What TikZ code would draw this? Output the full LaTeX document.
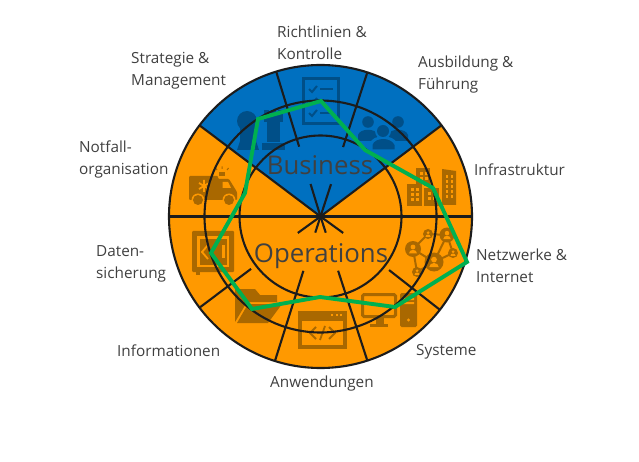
\documentclass[tikz,border=0pt]{standalone}
\usepackage{fontspec}
\setmainfont{Open Sans}
\definecolor{secblue}{HTML}{0070C0}
\definecolor{secorange}{HTML}{FF9900}
\definecolor{iconblue}{HTML}{004F88}
\definecolor{iconorange}{HTML}{A96800}
\definecolor{radar}{HTML}{00B050}
\definecolor{ink}{HTML}{404040}
\definecolor{rim}{HTML}{1C1C1C}
\tikzset{
    lbl/.style={anchor=west, align=left, text=ink, inner sep=0pt, font=\fontsize{15.3}{22}\selectfont},
    title/.style={text=ink, inner sep=0pt, font=\fontsize{25.8}{28}\selectfont},
    ringline/.style={draw=rim, line width=2.1pt},
    spoke/.style={draw=rim, line width=2.1pt},
    radarline/.style={draw=radar, line width=3.9pt, line join=miter}
}
\begin{document}
\begin{tikzpicture}[x=1pt, y=-1pt]
    \useasboundingbox (0,0) rectangle (639,462);
    \fill[white] (0,0) rectangle (639,462);
    \coordinate (centre) at (320.5,216.5);
    % Draw the two sectors of the wheel.
    \fill[secorange] (centre) circle[radius=151.5pt];
    \fill[secblue] (centre) -- ++(143:151.5pt) arc[start angle=143, end angle=37, radius=151.5pt] -- cycle;
    % Draw the pawn and the rook.
    \fill[iconblue] (247,121) circle[radius=10pt];
    \fill[iconblue] (240,127) -- (256,118) -- (256,141) -- (259,150) -- (237,150) -- (240,141) -- cycle;
    \fill[iconblue] (264,110) rectangle (283,122);
    \fill[iconblue] (267,122) rectangle (280,142);
    \fill[iconblue] (262,143) rectangle (285,150);
    \fill[secblue] (269,110) rectangle (271,114) (276,110) rectangle (278,114);
    % Draw the checklist.
    \draw[iconblue, line width=3pt] (303.5,78.5) rectangle (338,124);
    \foreach \yy in {89,101,113} {
        \draw[iconblue, line width=2pt] (309,\yy) -- (312,\yy+3) -- (317,\yy-3);
        \draw[iconblue, line width=2pt] (320,\yy) -- (333,\yy);
    }
    % Draw the group of people.
    \foreach \xx/\yy/\rr in {368/122/5.8, 398/122/5.8} {
        \fill[iconblue] (\xx,\yy) circle[radius=\rr pt];
        \fill[iconblue] (\xx-10,141) -- (\xx-10,135) .. controls (\xx-8,128) and (\xx+8,128) .. (\xx+10,135) -- (\xx+10,141) -- cycle;
    }
    \fill[secblue] (383,131) circle[radius=8pt];
    \fill[secblue] (370,151) -- (370,143) .. controls (373,134) and (393,134) .. (397,143) -- (397,151) -- cycle;
    \fill[iconblue] (383,131) circle[radius=6pt];
    \fill[iconblue] (372.5,149.5) -- (372.5,145) .. controls (375,137) and (391,137) .. (394.5,145) -- (394.5,149.5) -- cycle;
    % Draw the buildings.
    \fill[iconorange] (416,168) rectangle (430,186);
    \fill[iconorange] (407,184) rectangle (422,206);
    \fill[iconorange] (424,188) rectangle (439,206);
    \fill[iconorange] (442,169) -- (456,171) -- (456,205) -- (442,205) -- cycle;
    \fill[secorange] (422,184) rectangle (424,206);
    \foreach \xx in {410.5,415.5} \foreach \yy in {188,193,198} \fill[secorange] (\xx,\yy) rectangle +(3,3);
    \foreach \xx in {427.5,432.5} \foreach \yy in {192,197} \fill[secorange] (\xx,\yy) rectangle +(3,3);
    \foreach \xx in {419.5,424.5} \foreach \yy in {172,177} \fill[secorange] (\xx,\yy) rectangle +(3,3);
    \foreach \xx in {445.5,450.5} \foreach \yy in {175,180,185,190,195} \fill[secorange] (\xx,\yy) rectangle +(2.6,2.6);
    % Draw the network.
    \draw[iconorange, line width=2pt] (413,249) -- (428,234) -- (447,235) -- (453,253) -- (434,262) -- (417,272) -- (413,249) -- (434,262) -- (447,235);
    \foreach \xx/\yy/\rr in {413/249/8, 428/234/5, 447/235/7.5, 453/253/5, 434/262/9.5, 417/272/5} {
        \fill[iconorange] (\xx,\yy) circle[radius=\rr pt];
        \fill[secorange] (\xx,\yy-0.25*\rr) circle[radius=0.3*\rr pt];
        \fill[secorange] (\xx-0.5*\rr,\yy+0.55*\rr) arc[start angle=180, end angle=360, x radius=0.5*\rr pt, y radius=-0.45*\rr pt] -- cycle;
    }
    % Draw the computer.
    \draw[iconorange, line width=3pt, rounded corners=1.5pt] (362.5,294.5) rectangle (395.5,316.5);
    \fill[iconorange] (376,318) rectangle (384,324);
    \fill[iconorange] (370,323.5) rectangle (388,327);
    \fill[iconorange, rounded corners=1.5pt] (400,293) rectangle (417,327);
    \fill[secorange] (403,298) rectangle (414,300) (403,302) rectangle (414,304);
    \fill[secorange] (408.5,320) circle[radius=1.6pt];
    % Draw the code window.
    \fill[iconorange] (298,311) rectangle (347,349);
    \fill[secorange] (302,321) rectangle (343,345);
    \foreach \xx in {332,336.5,341} \fill[secorange] (\xx-1,314) rectangle +(2,2);
    \draw[iconorange, line width=1.8pt] (316,327) -- (310,333) -- (316,339) (325,326) -- (320,340) (329,327) -- (335,333) -- (329,339);
    % Draw the folder.
    \fill[iconorange] (235,322) -- (235,289) -- (255,289) -- (260,295) -- (277,295) -- (277,302) -- (247,302) -- cycle;
    \fill[iconorange] (237,323) -- (248,304) -- (282,304) -- (268,323) -- cycle;
    % Draw the safe.
    \fill[iconorange, rounded corners=1pt] (192,231) rectangle (234,272);
    \fill[iconorange] (196,272) rectangle (200,275);
    \fill[secorange] (197,236) rectangle (229,267);
    \fill[iconorange] (199.5,238.5) rectangle (226.5,264.5);
    \draw[secorange, line width=1.8pt] (208,245) -- (202,252) -- (208,259);
    \fill[secorange] (222,245) rectangle (225,258);
    % Draw the ambulance.
    \fill[iconorange, rounded corners=1pt] (189,176) -- (218,176) -- (218,179) -- (229,179) -- (237,192) -- (237,200) -- (189,200) -- cycle;
    \fill[iconorange] (218.5,172) rectangle (225,176);
    \draw[iconorange, line width=1pt] (217,170) -- (215.5,168) (222,169) -- (222,166.5) (227,170) -- (228.5,168);
    \fill[secorange] (222.5,182) -- (228,182) -- (231,188) -- (222.5,188) -- cycle;
    \draw[secorange, line width=1.8pt] (204,180) -- (204,192) (199,183) -- (209,189) (199,189) -- (209,183);
    \foreach \xx in {198,229} {
        \fill[secorange] (\xx,200) circle[radius=6.5pt];
        \fill[iconorange] (\xx,200) circle[radius=5pt];
    }
    % Draw the rings and the dividing lines.
    \draw[ringline] (centre) circle[radius=151.5pt];
    \draw[ringline] (centre) circle[radius=116pt];
    \draw[ringline] (centre) circle[radius=81pt];
    \draw[spoke] ([xshift=-151.5pt]centre) -- ([xshift=151.5pt]centre);
    \foreach \ang in {143,37} \draw[spoke, shift={(centre)}] (0,0) -- (\ang:151.5pt);
    \foreach \ang/\from in {107/73, 72/73, 217/87, 252.5/57, 288/57, 322/87} \draw[spoke, shift={(centre)}] (\ang:\from pt) -- (\ang:151.5pt);
    \foreach \ang/\upto in {107/34, 72/34, 216/28, 252/17, 288/17, 324/28} \draw[spoke, shift={(centre)}] (0,0) -- (\ang:\upto pt);
    \fill[rim] (centre) circle[radius=3.5pt];
    % Draw the two titles.
    \node[title] (business) at (320,165) {Business};
    \node[title] (operations) at (321,256) {Operations};
    % Draw the rating line.
    \draw[radarline] (321,101) -- (365,150) -- (433,188) -- (467,262) -- (395,307) -- (320,297) -- (252,309) -- (211,253) -- (245,193) -- (258,119) -- cycle;
    % Draw the labels round the wheel.
    \node[lbl] (policies) at (277,42.5) {Richtlinien \&\\Kontrolle};
    \node[lbl] (training) at (418,74.5) {Ausbildung \&\\Führung};
    \node[lbl] (infra) at (474,170) {Infrastruktur};
    \node[lbl] (networks) at (476,265.5) {Netzwerke \&\\Internet};
    \node[lbl] (systems) at (416,351.5) {Systeme};
    \node[lbl] (apps) at (270,383.5) {Anwendungen};
    \node[lbl] (info) at (117,350.5) {Informationen};
    \node[lbl] (backup) at (96,263.5) {Daten-\\sicherung};
    \node[lbl] (emergency) at (79,159.5) {Notfall-\\organisation};
    \node[lbl] (strategy) at (131,70.5) {Strategie \&\\Management};
\end{tikzpicture}
\end{document}
